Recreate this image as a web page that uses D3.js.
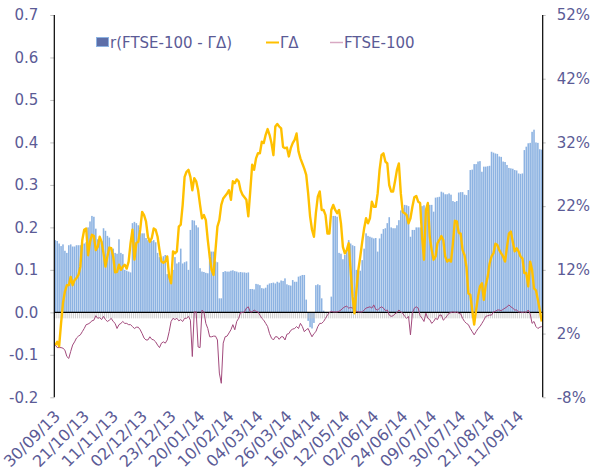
<!DOCTYPE html>
<html>
<head>
<meta charset="utf-8">
<script src="https://cdn.jsdelivr.net/npm/d3@7/dist/d3.min.js"></script>
<style>
  html, body { margin: 0; padding: 0; background: #fff; }
  svg text { font-family: "DejaVu Sans", Verdana, sans-serif; fill: #5b5b96; }
</style>
</head>
<body>
<div id="chart"></div>
<script>
// x axis labels, one every 15 trading days
var dateLabels = ["30/09/13", "21/10/13", "11/11/13", "02/12/13", "23/12/13", "20/01/14",
  "10/02/14", "04/03/14", "26/03/14", "16/04/14", "12/05/14", "02/06/14", "24/06/14",
  "09/07/14", "30/07/14", "21/08/14", "11/09/14"];
var labelEvery = 15;

var leftTicks = [-0.2, -0.1, 0, 0.1, 0.2, 0.3, 0.4, 0.5, 0.6, 0.7];
var rightTicks = [-8, 2, 12, 22, 32, 42, 52];

// r(FTSE-100 - ΓΔ), left axis
var corr = [
  0.170, 0.168, 0.162, 0.156, 0.160, 0.145, 0.140, 0.158, 0.160, 0.155,
  0.155, 0.158, 0.158, 0.158, 0.160, 0.162, 0.165, 0.200, 0.214, 0.227,
  0.225, 0.197, 0.172, 0.170, 0.168, 0.198, 0.192, 0.180, 0.176, 0.152,
  0.150, 0.140, 0.138, 0.172, 0.140, 0.137, 0.100, 0.098, 0.096, 0.094,
  0.210, 0.213, 0.210, 0.205, 0.190, 0.186, 0.186, 0.175, 0.170, 0.170,
  0.168, 0.170, 0.165, 0.140, 0.130, 0.128, 0.132, 0.135, 0.090, 0.085,
  0.085, 0.100, 0.130, 0.115, 0.118, 0.150, 0.115, 0.118, 0.120, 0.100,
  0.194, 0.217, 0.216, 0.205, 0.200, 0.104, 0.096, 0.095, 0.093, 0.092,
  0.143, 0.143, 0.143, 0.120, 0.118, 0.033, 0.033, 0.095, 0.097, 0.096,
  0.096, 0.098, 0.099, 0.097, 0.096, 0.094, 0.095, 0.094, 0.094, 0.093,
  0.094, 0.055, 0.055, 0.054, 0.067, 0.066, 0.064, 0.057, 0.056, 0.058,
  0.065, 0.068, 0.069, 0.070, 0.068, 0.072, 0.070, 0.075, 0.074, 0.080,
  0.066, 0.064, 0.063, 0.076, 0.072, 0.072, 0.084, 0.086, 0.088, 0.088,
  0.030, -0.020, -0.035, -0.038, -0.025, 0.064, 0.066, 0.064, 0.033, 0.004,
  0.000, 0.000, 0.000, 0.037, 0.227, 0.227, 0.225, 0.140, 0.138, 0.125,
  0.135, 0.147, 0.170, 0.162, 0.158, 0.156, 0.100, 0.096, 0.098, 0.123,
  0.150, 0.186, 0.180, 0.178, 0.176, 0.174, 0.175, 0.143, 0.174, 0.185,
  0.196, 0.198, 0.210, 0.224, 0.200, 0.198, 0.198, 0.205, 0.217, 0.240,
  0.245, 0.253, 0.252, 0.250, 0.178, 0.194, 0.194, 0.200, 0.200, 0.200,
  0.250, 0.252, 0.237, 0.237, 0.253, 0.253, 0.237, 0.270, 0.271, 0.272,
  0.284, 0.282, 0.278, 0.278, 0.280, 0.277, 0.262, 0.260, 0.262, 0.282,
  0.283, 0.283, 0.277, 0.276, 0.288, 0.335, 0.336, 0.349, 0.349, 0.355,
  0.356, 0.331, 0.343, 0.343, 0.344, 0.345, 0.378, 0.376, 0.374, 0.373,
  0.367, 0.366, 0.355, 0.354, 0.347, 0.340, 0.339, 0.338, 0.335, 0.334,
  0.327, 0.326, 0.327, 0.382, 0.390, 0.398, 0.399, 0.425, 0.430, 0.400,
  0.399, 0.384, 0.383
];

// ΓΔ cumulative return, %, right axis
var gammaDelta = [
  0.2, 0.7, 0.0, 3.6, 6.8, 8.6, 9.6, 9.6, 10.9, 9.6,
  10.4, 10.7, 11.2, 12.5, 16.7, 18.3, 18.5, 14.3, 16.4, 17.5,
  17.3, 15.1, 15.6, 17.2, 16.4, 14.6, 12.5, 14.1, 15.5, 15.4,
  14.1, 11.6, 11.7, 12.8, 12.0, 12.5, 12.8, 12.2, 13.3, 16.2,
  18.3, 13.6, 16.2, 16.4, 18.3, 21.1, 20.6, 19.6, 17.2, 16.4,
  17.0, 18.5, 18.3, 17.2, 15.1, 13.3, 13.1, 13.3, 14.1, 10.9,
  9.9, 14.9, 14.6, 14.9, 18.8, 19.1, 22.2, 26.6, 27.4, 27.7,
  26.6, 24.5, 26.4, 25.9, 24.5, 22.2, 20.1, 20.6, 19.8, 16.7,
  14.1, 12.0, 11.2, 15.1, 18.8, 19.8, 22.2, 23.2, 23.6, 24.0,
  24.5, 23.0, 25.9, 25.6, 26.2, 25.9, 24.5, 23.8, 23.4, 23.0,
  20.4, 24.3, 28.5, 27.7, 29.5, 30.3, 30.3, 32.1, 31.9, 33.2,
  34.1, 33.2, 31.9, 30.0, 34.5, 34.9, 34.5, 34.2, 31.3, 31.1,
  31.2, 29.8, 31.1, 31.9, 32.4, 33.4, 30.6, 29.5, 28.7, 27.9,
  26.9, 24.0, 20.4, 18.3, 17.2, 20.9, 23.5, 24.3, 21.4, 21.4,
  20.6, 17.7, 17.7, 21.4, 22.2, 21.4, 20.9, 21.4, 19.3, 15.6,
  14.6, 15.1, 16.2, 12.0, 7.8, 5.2, 8.8, 12.0, 14.1, 16.4,
  18.5, 20.1, 19.3, 20.1, 22.7, 21.9, 21.9, 24.0, 27.7, 30.0,
  30.3, 29.0, 28.7, 25.3, 24.3, 24.3, 25.9, 27.7, 28.7, 24.0,
  21.1, 20.9, 20.6, 19.3, 20.1, 21.9, 23.4, 23.6, 22.7, 22.5,
  17.2, 13.6, 21.4, 22.5, 17.2, 15.1, 13.6, 14.1, 16.2, 16.7,
  17.3, 16.7, 14.1, 13.3, 13.6, 13.3, 16.2, 19.7, 19.6, 17.8,
  17.7, 15.1, 14.3, 12.5, 8.3, 8.1, 5.7, 3.4, 5.7, 7.8,
  9.4, 9.9, 7.3, 9.6, 10.9, 13.0, 14.1, 14.6, 16.1, 15.9,
  15.1, 14.6, 14.1, 13.3, 15.6, 17.7, 18.0, 16.4, 14.9, 15.4,
  14.9, 14.1, 13.8, 11.5, 11.5, 9.4, 13.3, 12.0, 9.1, 8.8,
  7.3, 5.7, 3.9
];

// FTSE-100 cumulative return, %, right axis
var ftse = [
  0.2, -0.2, -0.2, -0.2, -0.3, -0.6, -1.6, -1.9, -0.8, 0.2,
  0.7, 1.3, 1.6, 1.8, 2.3, 2.8, 3.4, 3.5, 3.7, 4.0,
  4.1, 4.8, 4.4, 4.5, 4.2, 4.7, 4.2, 3.9, 4.1, 4.4,
  3.9, 3.6, 2.8, 3.4, 3.6, 3.9, 3.6, 3.6, 3.4, 3.4,
  3.1, 2.8, 3.0, 3.0, 2.6, 2.0, 1.3, 1.0, 1.0, 1.5,
  1.1, 1.0, 0.7, 0.2, -0.2, 0.5, 0.7, 0.5, 1.0, 2.3,
  3.9, 4.4, 4.2, 4.4, 4.0, 4.2, 3.9, 4.4, 4.4, 4.7,
  4.1, -1.6, 5.4, 5.4, -0.1, -0.2, 5.7, 5.4, 3.6, 2.8,
  1.5, 1.5, 1.6, 1.6, 1.0, -4.2, -5.8, 0.5, 1.5, 1.6,
  2.1, 2.6, 3.4, 2.6, 3.9, 4.4, 5.3, 5.3, 5.4, 6.0,
  6.2, 5.4, 5.4, 5.7, 5.5, 5.4, 4.9, 4.4, 4.1, 3.6,
  3.1, 2.0, 1.3, 1.0, 1.5, 1.5, 1.1, 1.5, 1.5, 1.0,
  1.9, 2.0, 2.5, 2.7, 2.8, 3.1, 2.8, 3.6, 3.1, 2.3,
  2.6, 2.8, 2.1, 1.5, 2.0, 2.3, 3.1, 3.6, 3.6, 3.9,
  4.4, 4.9, 5.3, 5.5, 5.4, 5.4, 5.4, 5.5, 5.7, 6.0,
  6.2, 6.3, 6.0, 6.1, 6.0, 5.7, 5.5, 5.4, 5.4, 5.4,
  5.7, 6.0, 6.1, 6.2, 6.0, 6.5, 5.8, 5.7, 6.0, 6.2,
  6.0, 5.6, 5.7, 4.9, 4.7, 4.8, 5.1, 5.3, 5.7, 5.4,
  5.2, 4.7, 4.4, 4.7, 1.8, 5.2, 6.0, 6.2, 6.0, 4.8,
  4.4, 3.9, 5.2, 4.4, 4.2, 3.6, 3.9, 4.4, 4.2, 4.9,
  4.9, 4.1, 4.4, 4.8, 5.2, 5.3, 5.4, 5.3, 5.4, 5.2,
  5.1, 4.4, 3.9, 3.6, 3.4, 2.8, 2.3, 1.8, 2.3, 2.8,
  3.1, 3.6, 4.1, 4.7, 4.8, 4.9, 4.9, 5.4, 5.5, 5.7,
  5.7, 5.6, 5.8, 6.0, 6.2, 6.5, 6.2, 6.0, 5.7, 5.7,
  5.4, 5.4, 5.3, 5.4, 5.3, 5.7, 5.1, 3.6, 3.9, 3.1,
  2.8, 3.0, 3.1
];

var width = 597, height = 472;
var plot = {left: 54.3, right: 542.7, top: 15, bottom: 397.3};
var textColor = "#5b5b96";

var svg = d3.select("#chart").append("svg")
    .attr("width", width)
    .attr("height", height);

var x = d3.scaleBand()
    .domain(d3.range(corr.length))
    .range([plot.left, plot.right])
    .padding(0);
var cx = function(i) { return x(i) + x.bandwidth() / 2; };

var yL = d3.scaleLinear().domain([-0.2, 0.7]).range([plot.bottom, plot.top]);
var yR = d3.scaleLinear().domain([-8, 52]).range([plot.bottom, plot.top]);

// bars
var barW = x.bandwidth() * 0.82;
svg.append("g").selectAll("rect")
  .data(corr)
  .enter().append("rect")
    .attr("x", function(d, i) { return cx(i) - barW / 2; })
    .attr("width", barW)
    .attr("y", function(d) { return yL(Math.max(0, d)); })
    .attr("height", function(d) { return Math.abs(yL(d) - yL(0)); })
    .attr("fill", "#8db3e2");

// category ticks under the zero line
svg.append("g").selectAll("line")
  .data(d3.range(corr.length + 1))
  .enter().append("line")
    .attr("x1", function(i) { return plot.left + i * x.step(); })
    .attr("x2", function(i) { return plot.left + i * x.step(); })
    .attr("y1", yL(0))
    .attr("y2", yL(0) + 6)
    .attr("stroke", "#c4c4c4")
    .attr("stroke-width", 0.8);

// zero line
svg.append("line")
    .attr("x1", plot.left).attr("x2", plot.right)
    .attr("y1", yL(0)).attr("y2", yL(0))
    .attr("stroke", "#000").attr("stroke-width", 1.2);

// lines
var lineR = d3.line()
    .x(function(d, i) { return cx(i); })
    .y(function(d) { return yR(d); });

svg.append("path")
    .datum(ftse)
    .attr("d", lineR)
    .attr("fill", "none")
    .attr("stroke", "#a24a7c")
    .attr("stroke-width", 1);

svg.append("path")
    .datum(gammaDelta)
    .attr("d", lineR)
    .attr("fill", "none")
    .attr("stroke", "#ffc000")
    .attr("stroke-width", 2.4)
    .attr("stroke-linejoin", "round");

// left axis
var axL = svg.append("g")
    .attr("transform", "translate(" + plot.left + ",0)")
    .call(d3.axisLeft(yL).tickValues(leftTicks).tickSize(4).tickPadding(12)
      .tickFormat(function(d) { return d.toFixed(1); }));
axL.select(".domain").remove();
axL.selectAll(".tick line").attr("stroke", "#bfbfbf");
axL.selectAll("text").style("font-size", "15px").attr("fill", textColor);
svg.append("line")
    .attr("x1", plot.left).attr("x2", plot.left)
    .attr("y1", plot.top).attr("y2", plot.bottom)
    .attr("stroke", "#000").attr("stroke-width", 1.2);

// right axis
var axR = svg.append("g")
    .attr("transform", "translate(" + plot.right + ",0)")
    .call(d3.axisRight(yR).tickValues(rightTicks).tickSize(3).tickPadding(11)
      .tickFormat(function(d) { return d + "%"; }));
axR.select(".domain").remove();
axR.selectAll(".tick line").attr("stroke", "#bfbfbf");
axR.selectAll("text").style("font-size", "15px").attr("fill", textColor);
svg.append("line")
    .attr("x1", plot.right).attr("x2", plot.right)
    .attr("y1", plot.top).attr("y2", plot.bottom)
    .attr("stroke", "#000").attr("stroke-width", 1.2);

// x labels
svg.append("g").selectAll("text")
  .data(dateLabels)
  .enter().append("text")
    .attr("transform", function(d, k) {
      return "translate(" + (cx(k * labelEvery) + 2) + "," + (plot.bottom + 16) + ") rotate(-45)";
    })
    .attr("text-anchor", "end")
    .attr("dy", "0.35em")
    .style("font-size", "16px")
    .attr("fill", textColor)
    .text(function(d) { return d; });

// legend
var legend = svg.append("g");
legend.append("rect")
    .attr("x", 96.5).attr("y", 37.5).attr("width", 12).attr("height", 9)
    .attr("fill", "#5d6ea8").attr("stroke", "#8db3e2");
legend.append("text").attr("x", 110).attr("y", 48).style("font-size", "15px")
    .text("r(FTSE-100 - ΓΔ)");
legend.append("line")
    .attr("x1", 266).attr("x2", 279).attr("y1", 42.5).attr("y2", 42.5)
    .attr("stroke", "#ffc000").attr("stroke-width", 2);
legend.append("text").attr("x", 280).attr("y", 48).style("font-size", "15px")
    .text("ΓΔ");
legend.append("line")
    .attr("x1", 330).attr("x2", 343).attr("y1", 42.5).attr("y2", 42.5)
    .attr("stroke", "#d8a9c3").attr("stroke-width", 1.5);
legend.append("text").attr("x", 344).attr("y", 48).style("font-size", "15px")
    .text("FTSE-100");
</script>
</body>
</html>
